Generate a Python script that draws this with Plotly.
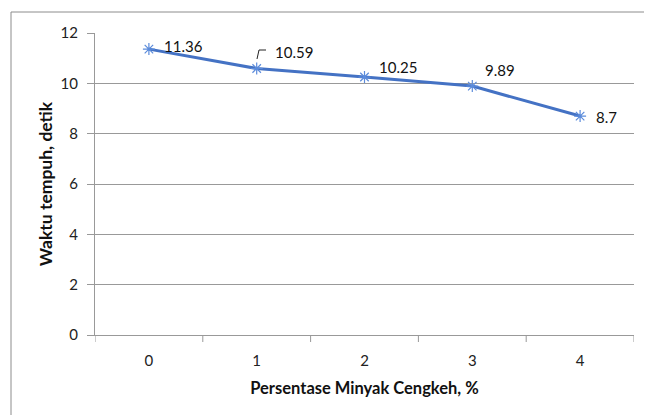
import plotly.graph_objects as go

categories = ["0", "1", "2", "3", "4"]
waktu = [11.36, 10.59, 10.25, 9.89, 8.7]
label_text = ["11.36", "10.59", "10.25", "9.89", "8.7"]
label_xshift = [13, 16, 12, 11, 14]
label_yshift = [3, 16, 10, 16, -1]

FONT = "Lato, Open Sans, sans-serif"
OFF = 8  # page body margin
W, H = 652 - OFF, 415 - OFF
ML, MT = 95 - OFF, 33 - OFF
pw, ph = 539, 302
MR = W - ML - pw
MB = H - MT - ph

fig = go.Figure()
fig.add_trace(go.Scatter(
    x=list(range(len(categories))), y=waktu, mode="lines+markers",
    line=dict(color="#4472C4", width=3),
    marker=dict(symbol="asterisk-open", size=10, color="#5B8BDB",
                line=dict(color="#5B8BDB", width=1.2)),
    showlegend=False, cliponaxis=False,
))

for i, v in enumerate(waktu):
    fig.add_annotation(x=i, y=v, text=label_text[i], showarrow=False,
                       xanchor="left", yanchor="middle",
                       xshift=label_xshift[i], yshift=label_yshift[i],
                       font=dict(family=FONT, size=15, color="#111"))

# leader line for 10.59 label (positions in reference pixels)
xpu = pw / 5.0
ypu = ph / 12.0
def px2x(px):
    return (px - 95) / xpu - 0.5
def py2y(py):
    return 12 - (py - 33) / ypu
fig.add_shape(type="path", xref="x", yref="y",
              path=f"M {px2x(257)} {py2y(59)} L {px2x(259)} {py2y(50)} L {px2x(266)} {py2y(50)}",
              line=dict(color="#222", width=1))

# outer chart border (partially cropped)
fig.add_shape(type="rect", xref="paper", yref="paper",
              x0=(11 - 95) / pw, x1=(660 - 95) / pw,
              y0=-(100) / ph, y1=1 + (33 - 12) / ph,
              line=dict(color="#8C8C8C", width=1), layer="below")

fig.update_layout(
    width=W, height=H,
    margin=dict(l=ML, r=MR, t=MT, b=MB),
    paper_bgcolor="white", plot_bgcolor="white",
    font=dict(family=FONT, size=15, color="#222"),
    xaxis=dict(range=[-0.5, 4.5], tickmode="array",
               tickvals=list(range(len(categories))), ticktext=categories,
               showgrid=False, zeroline=False, showline=True, linecolor="#999",
               ticks="", tickfont=dict(size=15), ticklabelstandoff=12,
               title=dict(text="<b>Persentase Minyak Cengkeh, %</b>",
                          font=dict(size=16.5, color="#111"), standoff=14)),
    yaxis=dict(range=[0, 12], dtick=2, showgrid=True, gridcolor="#999", gridwidth=1,
               zeroline=False, showline=True, linecolor="#999",
               ticks="outside", ticklen=7, tickcolor="#999",
               tickfont=dict(size=15), ticklabelstandoff=6,
               title=dict(text="<b>Waktu tempuh, detik</b>",
                          font=dict(size=17.5, color="#111"), standoff=3)),
)

# x-axis boundary ticks
for b in range(len(categories) + 1):
    fig.add_shape(type="line", xref="x", yref="paper", x0=b - 0.5, x1=b - 0.5,
                  y0=0, y1=-7 / ph, line=dict(color="#999", width=1))

fig.write_html("out.html")
